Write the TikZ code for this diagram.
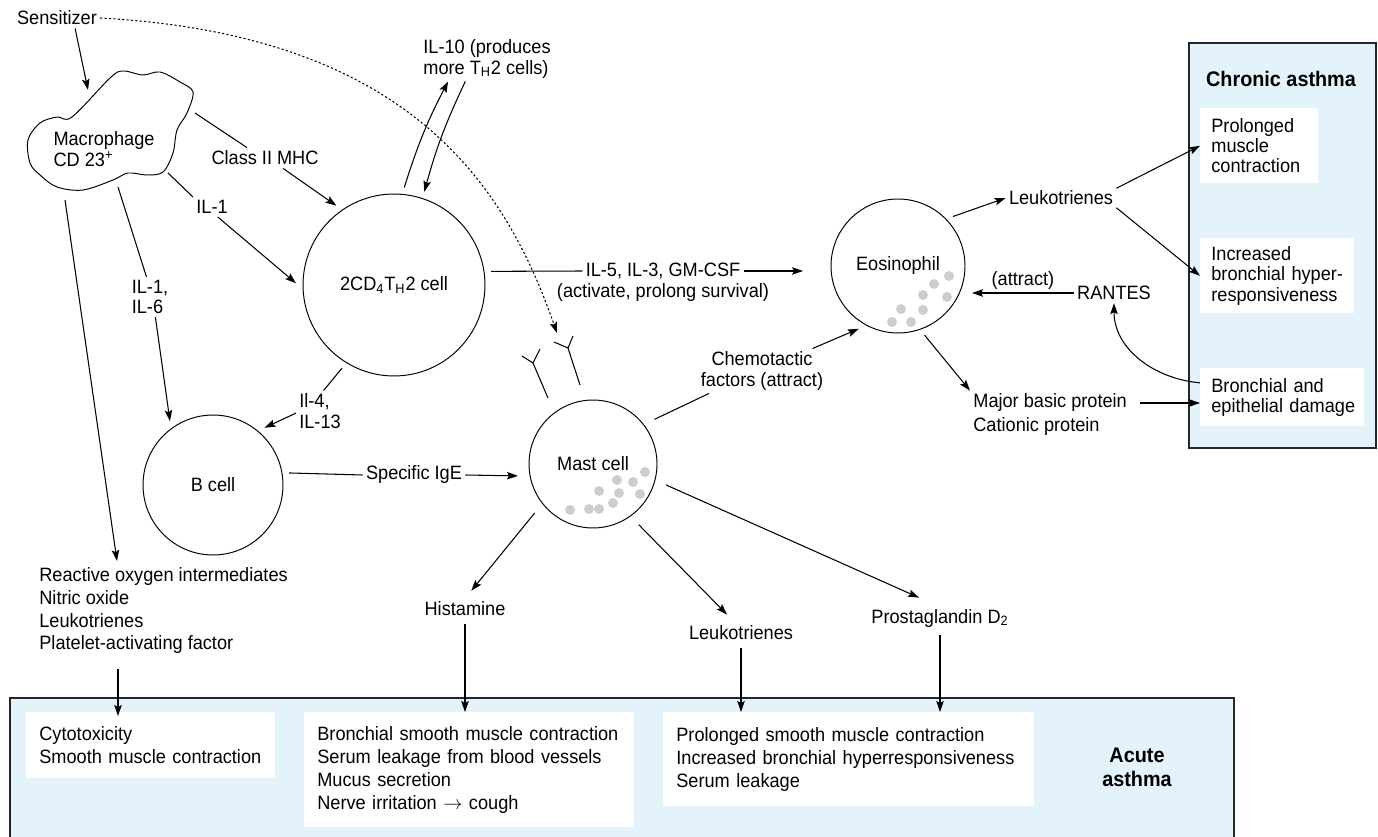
\documentclass[tikz,border=0pt]{standalone}
\usepackage{fontspec}
\setmainfont[FakeStretch=0.94]{Liberation Sans}
\usepackage{tikz}
\usetikzlibrary{arrows.meta,calc}
\definecolor{paleblue}{RGB}{228,243,251}
\definecolor{granule}{RGB}{205,205,205}
\hyphenpenalty=10000
\exhyphenpenalty=10000

\begin{document}
\begin{tikzpicture}[x=0.02cm, y=-0.02cm,
  lbl/.style={font=\fontsize{11}{11.5}\selectfont, inner sep=0.06cm},
  lst/.style={font=\fontsize{11}{13}\selectfont, inner sep=0.06cm, align=left},
  cell/.style={circle, draw, line width=0.55pt, inner sep=0pt, outer sep=0.14cm,
    font=\fontsize{11}{11.5}\selectfont},
  effect/.style={fill=white, anchor=north west, align=left, inner xsep=0.26cm,
    inner ysep=0pt, font=\fontsize{11}{13}\selectfont},
  chroniceffect/.style={effect, inner xsep=0.22cm, font=\fontsize{11}{11.5}\selectfont},
  zone/.style={draw=black!85, fill=paleblue, line width=0.6pt},
  heading/.style={font=\fontsize{12}{13.5}\selectfont\bfseries, align=center},
  arr/.style={-{Stealth[length=0.22cm,width=0.15cm,inset=0.04cm]}, line width=0.6pt},
  link/.style={line width=0.6pt},
  sensline/.style={arr, dash pattern=on 1.2pt off 1.3pt}]
\useasboundingbox (0,0) rectangle (1378,837);

% Acute and chronic asthma zones
\draw[zone] (10,698) rectangle (1234,850);
\draw[zone] (1189,43) rectangle (1376,448);
\node[heading] (chronic) at (1281,79) {Chronic asthma};
\node[heading] (acute) at (1137,767) {Acute\\asthma};

% Effect boxes
\node[effect, text width=4.46cm, minimum height=1.32cm] (boxA) at (26,712)
  {Cytotoxicity\\Smooth muscle contraction};
\node[effect, text width=6.08cm, minimum height=2.3cm] (boxB) at (304,712)
  {\mbox{Bronchial smooth muscle contraction}\\Serum leakage from blood vessels\\Mucus secretion\\Nerve irritation $\rightarrow$ cough};
\node[effect, text width=6.9cm, minimum height=1.88cm] (boxC) at (663,712)
  {Prolonged smooth muscle contraction\\\mbox{Increased bronchial hyperresponsiveness}\\Serum leakage};
\node[chroniceffect, text width=1.92cm, minimum height=1.5cm] (cb1) at (1200,108)
  {Prolonged\\muscle\\contraction};
\node[chroniceffect, text width=2.64cm, minimum height=1.5cm] (cb2) at (1200,238)
  {Increased\\\mbox{bronchial hyper-}\\responsiveness};
\node[chroniceffect, text width=2.84cm, minimum height=1.16cm] (cb3) at (1200,368)
  {Bronchial and\\\mbox{epithelial damage}};

% Macrophage
\draw[line width=0.55pt] plot[smooth cycle, tension=0.55] coordinates {(72,117) (110,78)
  (123,71) (143,75) (160,72) (180,82) (193,92) (187,113) (177,130) (173,153) (163,172)
  (147,175) (128,173) (113,180) (83,190) (57,187) (40,175) (30,163) (28,140) (40,123) (57,117)};
\node[lbl, align=left] (mac) at (104,149) {Macrophage\\CD 23\textsuperscript{+}};
\node[lbl] (sens) at (57,18) {Sensitizer};

% Labels
\node[lbl] (mhc) at (265,158) {Class II MHC};
\node[lbl] (il1) at (212,207) {IL-1};
\node[lbl, align=left] (il16) at (150,297) {IL-1,\\IL-6};
\node[lbl, align=left] (il10) at (487,59) {IL-10 (produces\\more T\textsubscript{H}2 cells)};
\node[lbl] (il5) at (663,271) {IL-5, IL-3, GM-CSF};
\node[lbl] (il5b) at (663,293) {(activate, prolong survival)};
\node[lbl, align=left] (il4) at (320,411) {Il-4,\\IL-13};
\node[lbl] (ige) at (414,475) {Specific IgE};
\node[lbl, align=center] (chemo) at (762,371) {Chemotactic\\factors (attract)};
\node[lbl] (leuk1) at (1061,198) {Leukotrienes};
\node[lbl] (rantes) at (1114,293) {RANTES};
\node[lbl, anchor=west] (mbp) at (970,403) {Major basic protein};
\node[lbl, anchor=west] (cat) at (970,427) {Cationic protein};
\node[lst, anchor=north west] (ros) at (36,564)
  {Reactive oxygen intermediates\\Nitric oxide\\Leukotrienes\\Platelet-activating factor};
\node[lbl] (hist) at (465,609) {Histamine};
\node[lbl] (leuk2) at (741,633) {Leukotrienes};
\node[lbl] (prost) at (940,618) {Prostaglandin D\textsubscript{2}};

% Cells
\node[cell, minimum size=3.64cm] (th2) at (394,285) {2CD\textsubscript{4}T\textsubscript{H}2 cell};
\node[cell, minimum size=2.8cm] (bcell) at (213,485) {B cell};
\node[cell, minimum size=2.56cm, outer sep=0.24cm] (mast) at (593,464) {Mast cell};
\node[cell, minimum size=2.68cm] (eos) at (898,266) {Eosinophil};

% Granules
\foreach \x/\y in {645/472, 617/480, 633/482, 599/491, 619/493, 640/494, 613/503,
  570/510, 589/509, 599/509, 949/276, 934/284, 923/295, 947/297, 901/309, 923/310,
  892/322, 911/322}
  \fill[granule] (\x,\y) circle (0.1cm);

% IgE on mast cell
\draw[link] (548,398) -- (533,363) -- (522,356) (533,363) -- (540,349);
\draw[link] (580,385) -- (568,348) -- (554,342) (568,348) -- (573,336);
\coordinate (bind) at (557,333);

% Sensitizer
\draw[arr] (sens.-30) -- ($(mac)+(-16,-59)$);
\draw[sensline] (sens.east) .. controls (410,35) and (505,185) .. (bind);

% Macrophage signals
\draw[link] ($(mac)+(91,-36)$) -- (mhc.150);
\draw[arr] (mhc.-30) -- (th2.126);
\draw[link] ($(mac)+(64,24)$) -- (il1.north west);
\draw[arr] (il1.-60) -- (th2.179);
\draw[link] ($(mac)+(14,38)$) -- (il16.100);
\draw[arr] (il16.-75) -- (bcell.124);
\draw[arr] ($(mac)+(-39,51)$) -- ($(ros.north west)+(81,-3)$);
\draw[arr] ($(ros.south west)+(82,12)$) -- ($(boxA.north west)+(92,4)$);

% TH2 cell
\draw[arr] (th2.84) to[bend left=5] (il10.-150);
\draw[arr] (il10.-134) to[bend right=5] (th2.72);
\draw[link] (th2.8) -- (il5.west);
\draw[arr, shorten >=0.42cm] (il5.east) -- (il5.east -| eos.west);
\draw[link] (th2.-122) -- (il4.80);
\draw[arr] (il4.185) -- (bcell.48);

% B cell and mast cell
\draw[link] (bcell.9) -- (ige.west);
\draw[arr] (ige.east) -- (mast.189);
\draw[link] (mast.36) -- (chemo.-157);
\draw[arr] (chemo.24) -- (eos.-122);
\draw[arr, shorten >=0.2cm] (mast.-140) -- (hist.north);
\draw[arr, shorten <=0.1cm] (hist.south) -- (hist.south |- boxB.north);
\draw[arr] (mast.-53) -- ($(leuk2.north)+(-14,-8)$);
\draw[arr, shorten <=0.1cm] (leuk2.south) -- (leuk2.south |- boxC.north);
\draw[arr] (mast.-16) -- ($(prost.north)+(-21,-8)$);
\draw[arr, shorten <=0.1cm] (prost.south) -- (prost.south |- boxC.north);

% Eosinophil
\draw[arr] (eos.42) -- (leuk1.west);
\draw[arr] (leuk1.10) -- (cb1.west);
\draw[arr] (leuk1.-10) -- (cb2.west);
\draw[arr] (rantes.west) -- node[lbl, above] (attr) {(attract)} (rantes.west -| eos.east);
\draw[arr] (eos.-69) -- (mbp.north west);
\draw[arr, shorten <=0.2cm] (mbp.east) -- (mbp.east -| cb3.west);
\draw[arr] (cb3.170) to[out=175, in=-90] (rantes.south);
\end{tikzpicture}
\end{document}
